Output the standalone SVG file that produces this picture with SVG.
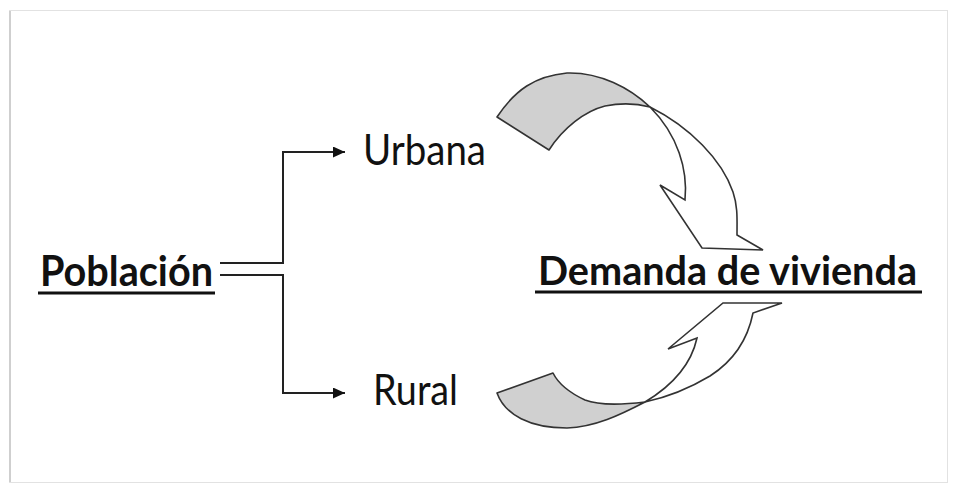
<svg xmlns="http://www.w3.org/2000/svg" width="955" height="490" viewBox="0 0 955 490">
<style>
.t{font-family:Lato,"Open Sans","Liberation Sans",sans-serif;fill:#111}
.b{font-weight:bold}
.ul{stroke:#111;stroke-width:3}
.ln{fill:none;stroke:#222;stroke-width:2}
.band{fill:#d0d0d0;stroke:#333;stroke-width:1.6;stroke-linejoin:round}
.wa{fill:#fff;stroke:#333;stroke-width:1.6;stroke-linejoin:miter}
</style>
<defs>
<marker id="ah" markerUnits="userSpaceOnUse" markerWidth="13" markerHeight="11" refX="12" refY="5.5" orient="auto">
<path d="M0,0 L12,5.5 L0,11 Z" fill="#111"/>
</marker>
</defs>
<rect x="0" y="0" width="955" height="490" fill="#fff"/>
<rect x="9.5" y="10.5" width="938" height="472" fill="#fff" stroke="#e2e2e2" stroke-width="1"/>
<line x1="10" y1="11" x2="10" y2="482" stroke="#cfcfcf" stroke-width="2"/>

<g id="connectors">
<path class="ln" d="M220,263 H283 V152 H345" marker-end="url(#ah)"/>
<path class="ln" d="M220,275 H283 V393 H345" marker-end="url(#ah)"/>
<g id="arrow-top">
<path class="band" d="M497,117 C515,90 535,76 567,73 C600,72 630,88 650,107 C635,103 620,103 605,106 C585,111 563,128 549,150 Z"/>
<path class="wa" d="M650,107 C690,127 722,160 733,192 C738,207 737,220 737,235 L763,250 L702,248 L660,185 L685,200 C688,170 678,135 650,107 Z"/>
</g>
<g id="arrow-bottom">
<path class="band" d="M497,393 C505,415 530,428 567,428 C595,427 620,415 645,402 C620,405 598,405 585,400 C570,393 558,383 553,373 Z"/>
<path class="wa" d="M645,402 C665,390 690,370 697,338 L668,349 L723,303 L782,303 L753,313 C748,338 735,360 710,376 C690,388 668,397 645,402 Z"/>
</g>
</g>

<g id="node-poblacion">
<text class="t b" x="40" y="286" font-size="42" textLength="173" lengthAdjust="spacingAndGlyphs">Población</text>
<line class="ul" x1="38" y1="293" x2="215" y2="293"/>
</g>
<g id="node-urbana">
<text class="t" x="363" y="165" font-size="43" textLength="123" lengthAdjust="spacingAndGlyphs">Urbana</text>
</g>
<g id="node-rural">
<text class="t" x="373" y="405" font-size="43" textLength="85" lengthAdjust="spacingAndGlyphs">Rural</text>
</g>
<g id="node-demanda">
<text class="t b" x="538" y="285" font-size="40" textLength="379" lengthAdjust="spacingAndGlyphs">Demanda de vivienda</text>
<line class="ul" x1="535" y1="292" x2="922" y2="292"/>
</g>
</svg>
